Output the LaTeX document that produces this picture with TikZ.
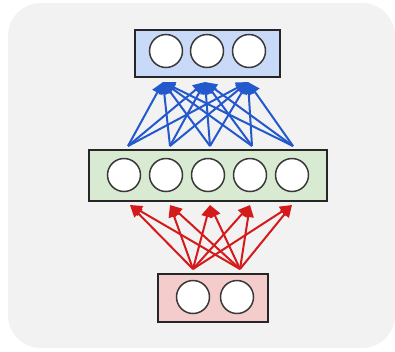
\documentclass[tikz,border=0pt]{standalone}
\usetikzlibrary{arrows.meta}
\definecolor{panel}{HTML}{F2F2F2}
\definecolor{outfill}{HTML}{C9DAF8}
\definecolor{hidfill}{HTML}{D9EAD3}
\definecolor{infill}{HTML}{F4CCCC}
\definecolor{redarrow}{HTML}{D41A1A}
\definecolor{bluearrow}{HTML}{2359CC}
\definecolor{ringgray}{HTML}{3A3A3A}
\tikzset{
  layerbox/.style={draw=black!85, line width=2pt},
  unit/.style={circle, draw=ringgray, line width=1.5pt, fill=white, minimum size=33pt, inner sep=0pt},
  redlink/.style={draw=redarrow, line width=2pt, -{Triangle[length=12pt,width=11pt]}},
  bluelink/.style={draw=bluearrow, line width=2pt, -{Triangle[length=12pt,width=11pt]}}
}
\begin{document}
\begin{tikzpicture}[x=1pt,y=-1pt]
  \useasboundingbox (0,0) rectangle (395,351);
  \fill[white] (0,0) rectangle (395,351);
  \fill[panel, rounded corners=33pt] (8,3) rectangle (395,348);

  % layer boxes
  \draw[layerbox, fill=outfill] (135,30) rectangle (280,77);
  \draw[layerbox, fill=hidfill] (89,150) rectangle (327,201);
  \draw[layerbox, fill=infill] (158,274) rectangle (268,322);

  % units
  \foreach \x [count=\i] in {166,207,249} \node[unit] (o\i) at (\x,51) {};
  \foreach \x [count=\i] in {124,166,208,250,292} \node[unit] (h\i) at (\x,175) {};
  \foreach \x [count=\i] in {193,237} \node[unit] (i\i) at (\x,297) {};

  % fan points for the connections
  \coordinate (is1) at (193,269);
  \coordinate (is2) at (240,269);
  \foreach \x [count=\i] in {130,170,210,250,292} \coordinate (hin\i) at (\x,205);
  \foreach \x [count=\i] in {128,170,210,252,293} \coordinate (hout\i) at (\x,146);
  \foreach \x [count=\i] in {163,205,248} \coordinate (oin\i) at (\x,82);

  % input -> hidden
  \foreach \s in {1,2}
    \foreach \t in {1,...,5}
      \draw[redlink] (is\s) -- (hin\t);

  % hidden -> output
  \foreach \s in {1,...,5}
    \foreach \t in {1,2,3}
      \draw[bluelink] (hout\s) -- (oin\t);
\end{tikzpicture}
\end{document}
